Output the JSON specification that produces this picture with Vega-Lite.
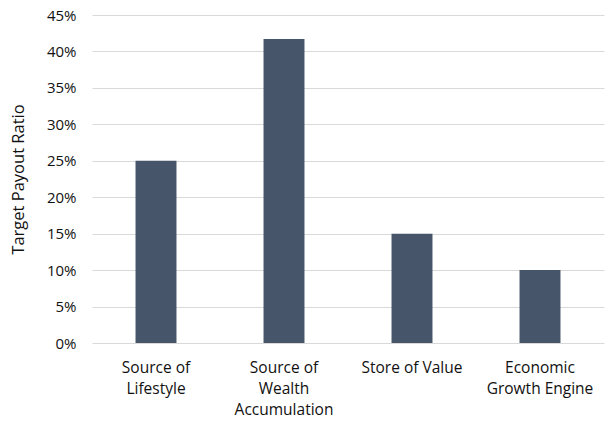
{
  "$schema": "https://vega.github.io/schema/vega-lite/v6.json",
  "width": 512,
  "height": 328,
  "autosize": {"type": "none"},
  "padding": {"left": 92, "top": 15, "right": 1, "bottom": 82},
  "background": "white",
  "config": {"view": {"stroke": null}, "font": "Open Sans"},
  "data": {"values": [
    {"category": "Source of\nLifestyle", "ratio": 0.25},
    {"category": "Source of\nWealth\nAccumulation", "ratio": 0.417},
    {"category": "Store of Value", "ratio": 0.15},
    {"category": "Economic\nGrowth Engine", "ratio": 0.10}
  ]},
  "mark": {"type": "bar", "color": "#465569"},
  "encoding": {
    "x": {
      "field": "category", "type": "nominal", "sort": null,
      "scale": {"paddingInner": 0.68, "paddingOuter": 0.34},
      "axis": {
        "title": null, "labelAngle": 0, "domain": false, "ticks": false,
        "labelExpr": "split(datum.label, '\\n')",
        "labelFontSize": 15.5, "labelColor": "#111111", "labelPadding": 17,
        "labelLineHeight": 21, "labelLimit": 200
      }
    },
    "y": {
      "field": "ratio", "type": "quantitative",
      "scale": {"domain": [0, 0.45], "nice": false},
      "axis": {
        "title": "Target Payout Ratio", "format": ".0%", "values": [0,0.05,0.1,0.15,0.2,0.25,0.3,0.35,0.4,0.45],
        "domain": false, "ticks": false, "gridColor": "#d9d9d9", "gridWidth": 1,
        "labelFontSize": 15, "labelColor": "#111111", "labelPadding": 16,
        "titleFontSize": 16.5, "titleFontWeight": "normal", "titleColor": "#111111", "titlePadding": 20
      }
    }
  }
}
